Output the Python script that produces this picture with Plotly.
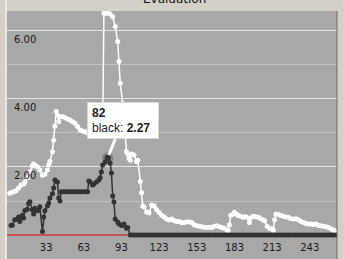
import plotly.graph_objects as go

# ---- data ----
white_x = [4, 5, 7, 9, 11, 13, 15, 16, 18, 20, 22, 23, 24, 26, 28, 30, 32, 34, 35, 36,
           38, 39, 40, 41, 42, 43, 44, 46, 47, 49, 51, 52, 54, 56, 58, 60, 62, 64, 66, 68,
           70, 72, 74, 76, 78, 79, 80, 82, 84, 86, 88, 90, 91, 92, 94, 95, 96, 97, 98, 99,
           100, 101, 103, 105, 106, 108, 109, 110, 111, 113, 115, 117, 119, 121, 123, 125, 127, 129, 131, 133,
           135, 137, 139, 141, 143, 145, 147, 149, 151, 153, 155, 157, 159, 161, 163, 165, 167, 169, 171, 173,
           175, 177, 178, 179, 180, 182, 183, 185, 186, 188, 190, 192, 194, 195, 196, 198, 200, 202, 204, 206,
           207, 209, 211, 213, 214, 215, 216, 218, 220, 222, 224, 226, 228, 230, 232, 234, 236, 238, 240, 242,
           244, 246, 248, 250, 252, 254, 256, 258, 260, 262, 263]
white_y = [1.23, 1.25, 1.27, 1.30, 1.38, 1.47, 1.50, 1.55, 1.68, 1.86, 2.03, 2.09, 2.06, 2.01, 1.91, 1.76, 1.79, 1.91, 2.06, 2.16,
           2.45, 2.79, 3.20, 3.63, 3.53, 3.33, 3.48, 3.48, 3.47, 3.43, 3.40, 3.38, 3.33, 3.29, 3.19, 3.09, 3.06, 3.04, 3.00, 2.97,
           2.95, 2.96, 2.98, 3.00, 3.02, 6.52, 6.52, 6.52, 6.50, 6.42, 6.13, 5.69, 5.10, 4.46, 3.87, 3.40, 2.95, 2.45, 2.38, 2.26,
           2.20, 2.38, 2.35, 2.16, 2.20, 1.57, 1.25, 0.85, 0.82, 0.68, 0.65, 0.88, 0.85, 0.74, 0.66, 0.58, 0.53, 0.47, 0.44, 0.47,
           0.42, 0.40, 0.40, 0.36, 0.37, 0.39, 0.38, 0.37, 0.30, 0.27, 0.26, 0.24, 0.23, 0.22, 0.23, 0.22, 0.26, 0.27, 0.24, 0.22,
           0.20, 0.15, 0.13, 0.30, 0.57, 0.62, 0.67, 0.60, 0.57, 0.55, 0.52, 0.54, 0.50, 0.37, 0.50, 0.55, 0.54, 0.52, 0.48, 0.44,
           0.42, 0.26, 0.20, 0.18, 0.14, 0.45, 0.62, 0.60, 0.57, 0.55, 0.53, 0.52, 0.48, 0.47, 0.48, 0.45, 0.40, 0.37, 0.34, 0.32,
           0.32, 0.31, 0.32, 0.28, 0.27, 0.26, 0.24, 0.22, 0.18, 0.15, 0.12]

black_x = [5, 6, 8, 10, 11, 12, 14, 15, 16, 18, 19, 20, 22, 23, 24, 26, 27, 28, 30, 31,
           32, 34, 35, 36, 38, 39, 40, 42, 43, 44, 45, 47, 49, 51, 53, 55, 57, 59, 61, 63,
           65, 66, 67, 68, 70, 71, 73, 75, 76, 77, 78, 80, 82, 84, 85, 86, 87, 88, 90, 91,
           93, 94, 95, 97, 98, 100, 102, 104, 106, 108, 110, 112, 114, 116, 118, 120, 122, 124, 126, 128,
           130, 132, 134, 136, 138, 140, 142, 144, 146, 148, 150, 152, 154, 156, 158, 160, 162, 164, 166, 168,
           170, 172, 174, 176, 178, 180, 182, 184, 186, 188, 190, 192, 194, 196, 198, 200, 202, 204, 206, 208,
           210, 212, 214, 216, 218, 220, 222, 224, 226, 228, 230, 232, 234, 236, 238, 240, 242, 244, 246, 248,
           250, 252, 254, 256, 258, 260, 262, 264]
black_y = [0.29, 0.29, 0.45, 0.47, 0.53, 0.40, 0.58, 0.50, 0.72, 0.76, 0.93, 0.98, 0.74, 0.62, 0.79, 0.71, 0.74, 0.83, 0.10, 0.53,
           0.71, 0.85, 0.94, 1.09, 1.21, 1.38, 1.62, 1.56, 1.09, 1.00, 1.27, 1.27, 1.27, 1.27, 1.27, 1.27, 1.27, 1.27, 1.27, 1.27,
           1.27, 1.27, 1.59, 1.56, 1.47, 1.50, 1.56, 1.62, 1.68, 1.85, 2.06, 2.15, 2.27, 2.12, 1.82, 1.15, 0.97, 0.47, 0.38, 0.32,
           0.28, 0.29, 0.32, 0.20, 0.22, 0.00, 0.00, 0.00, 0.00, 0.00, 0.00, 0.00, 0.00, 0.00, 0.00, 0.00, 0.00, 0.00, 0.00, 0.00,
           0.00, 0.00, 0.00, 0.00, 0.00, 0.00, 0.00, 0.00, 0.00, 0.00, 0.00, 0.00, 0.00, 0.00, 0.00, 0.00, 0.00, 0.00, 0.00, 0.00,
           0.00, 0.00, 0.00, 0.00, 0.00, 0.00, 0.00, 0.00, 0.00, 0.00, 0.00, 0.00, 0.00, 0.00, 0.00, 0.00, 0.00, 0.00, 0.00, 0.00,
           0.00, 0.00, 0.00, 0.00, 0.00, 0.00, 0.00, 0.00, 0.00, 0.00, 0.00, 0.00, 0.00, 0.00, 0.00, 0.00, 0.00, 0.00, 0.00, 0.00,
           0.00, 0.00, 0.00, 0.00, 0.00, 0.00, 0.00, 0.00]

x_tick_vals = [3, 33, 63, 93, 123, 153, 183, 213, 243]
x_tick_text = [".", "33", "63", "93", "123", "153", "183", "213", "243"]
y_tick_vals = [2, 4, 6]
y_tick_text = ["2.00", "4.00", "6.00"]
y_minor_vals = [1, 3, 5]

hover_ply = 82
hover_val = black_y[black_x.index(hover_ply)]

PLOT_BG = "#a8a8a8"
FRAME_BG = "#d4d0c8"

fig = go.Figure()
fig.add_trace(go.Scatter(
    x=white_x, y=white_y, mode="lines+markers", name="white",
    line=dict(color="#ffffff", width=1.5),
    marker=dict(color="#ffffff", size=5),
))
fig.add_trace(go.Scatter(
    x=black_x, y=black_y, mode="lines+markers", name="black",
    line=dict(color="#333333", width=1.5),
    marker=dict(color="#333333", size=5),
))
# hover halo
fig.add_trace(go.Scatter(
    x=[hover_ply], y=[hover_val], mode="markers",
    marker=dict(color="rgba(51,51,51,0.35)", size=11, line=dict(width=0)),
))
fig.add_trace(go.Scatter(
    x=[hover_ply], y=[hover_val], mode="markers",
    marker=dict(color="#333333", size=6),
))

fig.add_annotation(
    x=hover_ply, y=hover_val, xref="x", yref="y",
    text=f"<b>{hover_ply}</b><br>black: <b>{hover_val:.2f}</b>",
    showarrow=True, arrowhead=0, arrowwidth=3, arrowcolor="#ffffff",
    ax=15, ay=-37, standoff=3,
    align="left", bgcolor="#ffffff", bordercolor="#d8d8d8", borderwidth=1, borderpad=4,
    width=62, height=27,
    font=dict(family="Liberation Sans", size=12, color="#222222"),
)

fig.add_annotation(
    x=0.5, y=1, xref="paper", yref="paper", xanchor="center", yanchor="bottom",
    text="Evaluation", showarrow=False, xshift=2, yshift=3,
    font=dict(family="DejaVu Sans", size=12, color="#111111"),
)

fig.update_layout(
    width=343, height=259,
    margin=dict(l=7, r=6, t=11, b=0, pad=0),
    paper_bgcolor=FRAME_BG, plot_bgcolor=PLOT_BG,
    showlegend=False,
    shapes=[
        dict(type="line", xref="paper", yref="y", x0=0, x1=1, y0=0, y1=0, layer="below",
             line=dict(color="#e00000", width=1)),
        dict(type="line", xref="paper", yref="paper", x0=1, x1=1, y0=0, y1=1,
             line=dict(color="#6a6a6a", width=1)),
        dict(type="line", xref="paper", yref="paper", x0=-0.003, x1=-0.003, y0=0, y1=1.05,
             line=dict(color="#ffffff", width=1)),
    ],
    xaxis=dict(
        range=[1.8, 264.7], tickmode="array", tickvals=x_tick_vals, ticktext=x_tick_text,
        showgrid=False, zeroline=False, showline=False, ticks="",
        ticklabelposition="inside", ticklabelstandoff=3,
        tickfont=dict(family="DejaVu Sans", size=10, color="#1a1a1a"),
    ),
    yaxis=dict(
        range=[-0.706, 6.588], tickmode="array", tickvals=y_tick_vals, ticktext=y_tick_text,
        showgrid=True, gridcolor="#e4e4e4", gridwidth=1,
        zeroline=False,
        showline=False, ticks="",
        ticklabelposition="inside", ticklabelshift=9, ticklabelstandoff=4,
        tickfont=dict(family="DejaVu Sans", size=10, color="#1a1a1a"),
        minor=dict(tickvals=y_minor_vals, showgrid=True, gridcolor="#c2c2c2", gridwidth=1, ticks=""),
    ),
)

fig.write_html("out.html")
